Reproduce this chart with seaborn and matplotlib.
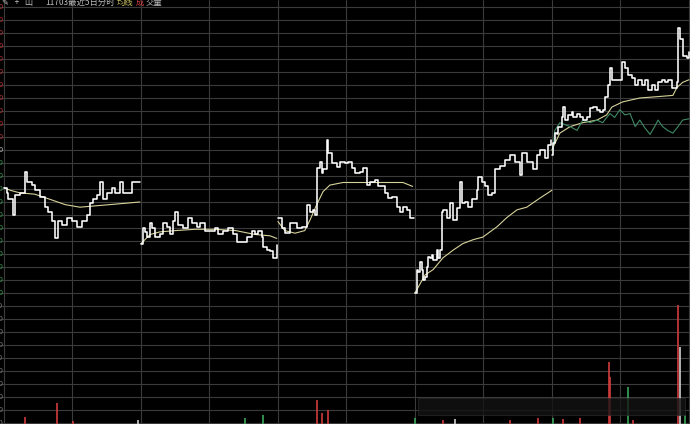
import numpy as np
import pandas as pd
import matplotlib
matplotlib.use('Agg')
import matplotlib.pyplot as plt
import seaborn as sns
from matplotlib.patches import Rectangle

# five day intraday chart, 240 trading minutes per day
# values are % change against the reference close
d1_t = [0, 5, 7, 16, 19, 28, 37, 40, 49, 54, 63, 72, 77, 84, 89, 95, 102, 110, 119, 128,
        137, 145, 151, 156, 163, 168, 173, 180, 189, 194, 203, 208, 217, 224, 238]
d1_chg = [-2.9, -3.3, -3.8, -5.0, -3.5, -3.3, -1.7, -2.5, -2.7, -3.1, -3.6, -4.4, -4.8, -5.5, -6.8,
          -5.5, -5.8, -5.2, -5.5, -5.9, -5.5, -5.0, -4.1, -3.8, -3.5, -2.5, -3.8, -3.3, -2.9, -3.3,
          -2.5, -3.3, -3.3, -2.5, -2.5]
d2_t = [0, 4, 7, 11, 16, 19, 25, 33, 39, 46, 51, 56, 60, 65, 74, 82, 89, 98, 103, 112, 121,
        130, 135, 144, 153, 161, 168, 177, 186, 194, 200, 205, 212, 214, 221, 226, 231, 238]
d2_chg = [-7.2, -6.0, -6.3, -6.7, -5.6, -6.0, -6.7, -6.5, -5.6, -5.9, -6.5, -5.5, -4.8, -5.8, -6.0,
          -5.2, -5.6, -5.9, -5.6, -6.2, -6.2, -6.0, -6.5, -6.2, -6.0, -6.5, -7.1, -7.1, -6.7, -6.2,
          -6.5, -6.2, -6.7, -7.5, -7.7, -7.8, -8.3, -7.3]
d3_t = [0, 7, 12, 21, 33, 42, 51, 56, 61, 65, 68, 74, 77, 79, 86, 88, 95, 103, 109, 117, 123,
        130, 135, 144, 149, 156, 161, 170, 175, 182, 188, 193, 200, 209, 214, 219, 226, 231, 238]
d3_chg = [-5.2, -6.0, -6.4, -5.6, -6.0, -5.9, -4.2, -4.8, -4.6, -5.0, -1.4, -0.9, -1.8, -1.5, 0.8,
          -0.2, -1.0, -1.3, -0.9, -1.0, -0.9, -1.4, -1.8, -1.7, -1.4, -2.7, -2.5, -2.3, -2.8, -2.8,
          -3.3, -3.7, -3.6, -4.4, -4.8, -4.4, -4.6, -5.2, -5.2]
d4_t = [0, 4, 5, 9, 12, 14, 18, 21, 23, 26, 30, 32, 39, 40, 44, 47, 49, 56, 61, 67, 74, 79, 82,
        88, 93, 100, 109, 111, 117, 123, 128, 135, 140, 149, 158, 166, 175, 184, 187, 196, 207,
        214, 219, 228, 233, 238]
d4_chg = [-11.0, -9.2, -9.4, -8.6, -9.2, -10.0, -9.8, -9.0, -8.2, -8.3, -8.1, -8.5, -7.7, -8.3,
          -7.7, -4.8, -4.6, -5.2, -4.1, -5.4, -4.5, -2.5, -4.1, -4.0, -4.4, -3.8, -3.1, -2.1, -2.5,
          -2.8, -3.5, -3.3, -1.5, -1.2, -0.8, -0.4, -0.9, -1.9, -0.2, -0.9, -1.5, -0.4, 0.0, -0.6,
          0.4, 0.8]
d5_t = [0, 2, 5, 9, 11, 18, 19, 23, 28, 35, 37, 44, 49, 54, 61, 67, 72, 79, 84, 89, 93, 98, 102,
        105, 110, 116, 123, 128, 133, 140, 146, 151, 158, 163, 168, 175, 180, 186, 193, 198, 203,
        210, 216, 219, 221, 224, 229, 236, 240]
d5_chg = [-0.4, 0.5, 1.3, 1.2, 1.8, 2.5, 3.3, 2.3, 2.7, 2.9, 2.5, 2.8, 2.5, 2.3, 2.5, 3.2, 3.3,
          3.1, 2.9, 3.1, 4.1, 5.0, 6.3, 5.4, 5.4, 5.4, 6.8, 6.3, 5.8, 5.5, 5.0, 5.4, 5.0, 5.4, 4.6,
          5.0, 4.6, 5.2, 5.4, 5.2, 5.4, 4.8, 4.8, 5.2, 9.4, 8.5, 7.2, 7.1, 7.5]

# average price line
a1_t = [0, 11, 28, 54, 81, 107, 133, 159, 186, 212, 238]
a1_chg = [-2.9, -3.1, -3.3, -3.4, -3.8, -4.2, -4.4, -4.3, -4.2, -4.1, -4.0]
a2_t = [0, 16, 33, 60, 95, 130, 166, 200, 226, 238]
a2_chg = [-7.2, -6.5, -6.3, -6.2, -6.1, -6.1, -6.2, -6.5, -6.6, -6.8]
a3_t = [0, 12, 30, 47, 56, 68, 79, 91, 114, 149, 184, 219, 236]
a3_chg = [-5.5, -6.2, -6.4, -6.2, -5.4, -4.2, -3.2, -2.7, -2.5, -2.5, -2.5, -2.5, -2.8]
a4_t = [0, 18, 32, 49, 67, 84, 102, 119, 144, 161, 179, 196, 219, 240]
a4_chg = [-11.0, -9.6, -9.2, -8.3, -7.7, -7.2, -6.9, -6.7, -5.9, -5.2, -4.6, -4.4, -3.7, -3.1]
a5_t = [0, 2, 14, 32, 54, 79, 96, 105, 124, 154, 184, 212, 219, 229, 240]
a5_chg = [0.0, 0.2, 1.3, 1.8, 2.1, 2.3, 2.7, 3.3, 3.7, 4.0, 4.1, 4.2, 4.8, 5.2, 5.4]

# index line, last day only
idx_t = [2, 5, 14, 32, 44, 54, 67, 79, 89, 96, 102, 110, 119, 128, 137, 146, 154, 163, 172, 180,
         186, 194, 203, 212, 221, 229, 240]
idx_chg = [0.0, 1.5, 2.1, 1.8, 1.5, 2.3, 2.1, 2.3, 2.1, 2.5, 2.8, 2.5, 3.1, 2.7, 2.8, 1.8, 2.3,
           1.7, 1.2, 1.8, 2.3, 1.8, 1.5, 1.3, 1.8, 2.3, 2.4]

# volume (minute from first open, lots, direction)
vol_t = [37, 93, 121, 235, 422, 454, 548, 557, 568, 720, 769, 790, 887, 936, 962, 979, 1009,
         1060, 1062, 1093, 1102, 1181, 1184, 1193]
vol_lots = [1080, 3230, 460, 620, 920, 1390, 3700, 1690, 2160, 920, 620, 700, 620, 920, 920, 770,
            920, 9550, 7240, 5700, 620, 18330, 11860, 1390]
vol_dir = ['up', 'up', 'up', 'flat', 'down', 'down', 'up', 'up', 'up', 'down', 'up', 'flat', 'up',
           'up', 'down', 'up', 'up', 'up', 'up', 'down', 'up', 'up', 'flat', 'down']

header_parts = ['11703最近5日分时', '均线', '成', '交量']
header_colors = ['#bbbbbb', '#c8c060', '#d04040', '#bbbbbb']


def day_frame(ts, vals, day):
    return pd.DataFrame({'t': np.array(ts) + 240 * (day - 1), 'chg': vals, 'day': day})


price_df = pd.concat([day_frame(d1_t, d1_chg, 1), day_frame(d2_t, d2_chg, 2),
                      day_frame(d3_t, d3_chg, 3), day_frame(d4_t, d4_chg, 4),
                      day_frame(d5_t, d5_chg, 5)])
avg_df = pd.concat([day_frame(a1_t, a1_chg, 1), day_frame(a2_t, a2_chg, 2),
                    day_frame(a3_t, a3_chg, 3), day_frame(a4_t, a4_chg, 4),
                    day_frame(a5_t, a5_chg, 5)])
idx_df = day_frame(idx_t, idx_chg, 5)

sns.set_style('dark')
plt.rcParams['font.family'] = ['Noto Sans CJK SC', 'DejaVu Sans']

fig = plt.figure(figsize=(6.9, 4.24), dpi=100, facecolor='black')
ax = fig.add_axes([0, 0, 1, 1])
ax.set_facecolor('black')
ax.set_xlim(-7, 1202)
ax.set_ylim(-21.077, 11.538)
ax.set_xticks(range(0, 1201, 120))
ax.set_yticks(range(-21, 12))
ax.grid(True, color='#3b3b3b', lw=0.8)
ax.tick_params(length=0, labelleft=False, labelbottom=False)
for s in ax.spines.values():
    s.set_visible(False)

sns.lineplot(data=avg_df, x='t', y='chg', units='day', estimator=None, color='#d6d29a',
             lw=0.8, ax=ax, legend=False)
sns.lineplot(data=idx_df, x='t', y='chg', color='#3e8a66', lw=0.8, ax=ax, legend=False)
sns.lineplot(data=price_df, x='t', y='chg', units='day', estimator=None, color='white',
             lw=1.15, drawstyle='steps-post', ax=ax, legend=False)
ax.set_xlabel('')
ax.set_ylabel('')

# volume on its own scale, bars grow from the bottom
ax2 = ax.twinx()
ax2.set_ylim(0, 65230)
ax2.set_axis_off()
colors = {'up': '#d23c3c', 'down': '#39a85a', 'flat': '#cfcfcf'}
ax2.vlines(vol_t, 0, vol_lots, colors=[colors[d] for d in vol_dir], lw=1.2)

# cut off scale labels at the left border
for k in range(-21, 12):
    if k > 0:
        c = '#b03030'
    elif k == 0:
        c = '#bbbbbb'
    elif k >= -11:
        c = '#2f9a4a'
    else:
        c = '#777777'
    ax.text(-1.5, k, f'{10 * (1 + k / 100):.2f}', color=c, fontsize=5.5,
            ha='right', va='center', clip_on=False)

# header, parts placed one after another
fig.text(2 / 690, 1 - 2 / 424, '✎   +   山', color='#bbbbbb', fontsize=6, va='center')
renderer = fig.canvas.get_renderer()
x = 45 / 690
for part, col in zip(header_parts, header_colors):
    t = fig.text(x, 1 - 2 / 424, part, color=col, fontsize=6, va='center')
    bb = t.get_window_extent(renderer=renderer)
    x += bb.width / 690 + 2 / 690

# faint overlay box at the bottom right
fig.add_artist(Rectangle((418 / 690, 1 - 415 / 424), 267 / 690, 17 / 424,
                         transform=fig.transFigure, facecolor='#141414',
                         edgecolor='#2c2c2c', lw=0.6, alpha=0.8))

fig.savefig('out.png', dpi=100, facecolor='black')
